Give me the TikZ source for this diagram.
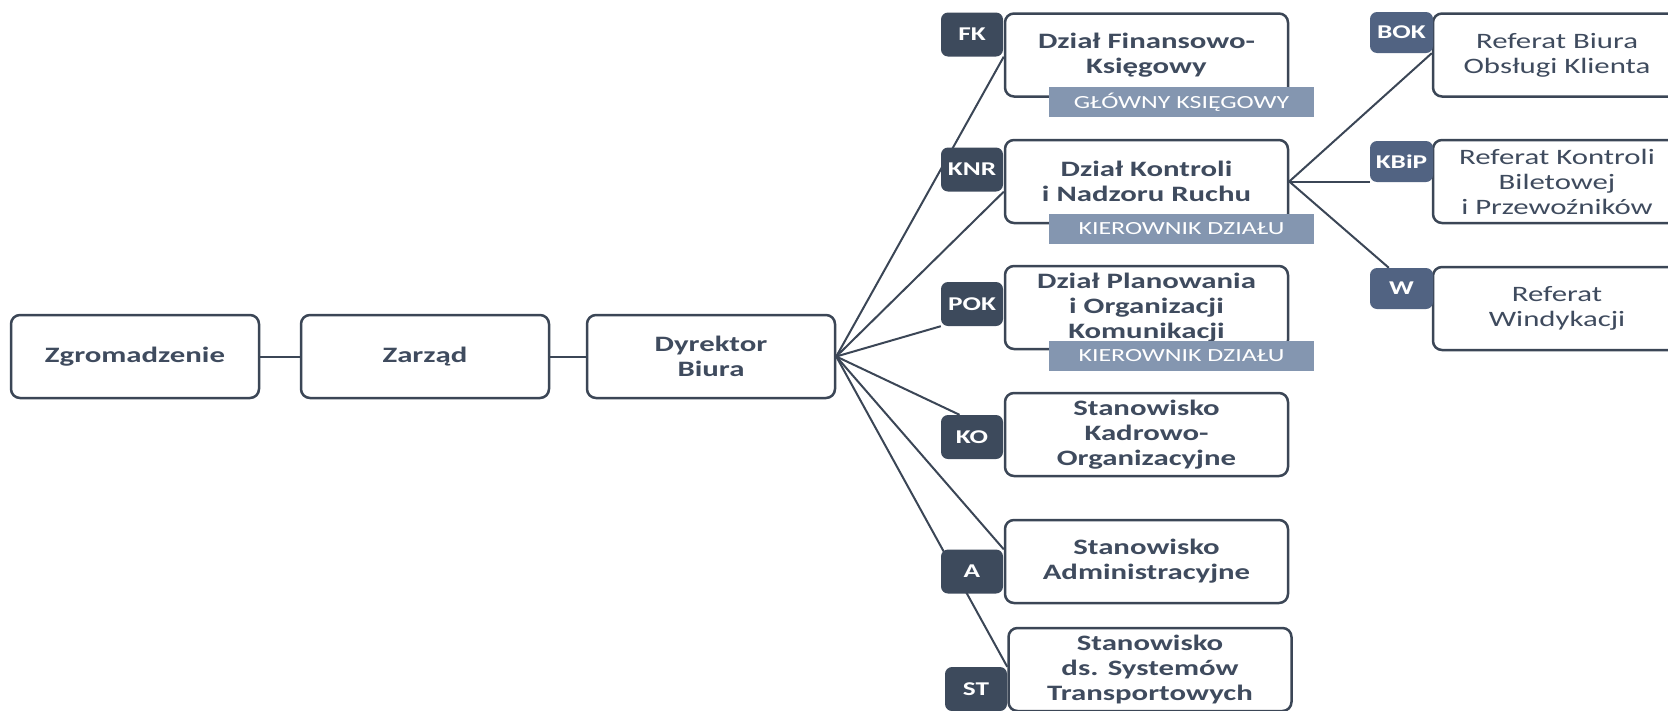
\documentclass[tikz,border=0pt]{standalone}
\usepackage{fontspec}
\setmainfont{Carlito}[FakeStretch=1.4]
\usetikzlibrary{backgrounds}
\usetikzlibrary{calc}
\definecolor{tekst}{HTML}{3F4B5E}
\definecolor{rama}{HTML}{3B4656}
\definecolor{znak}{HTML}{3D4A5C}
\definecolor{znakref}{HTML}{516382}
\definecolor{opis}{HTML}{8496B0}

\begin{document}
\begin{tikzpicture}[x=1pt,y=-1pt,
    ramka/.style={draw=rama,line width=2.5pt,rounded corners=9pt,fill=white,inner sep=0pt,
        minimum height=83pt,align=center,text=tekst},
    organ/.style={ramka,minimum width=248pt,font=\fontsize{22}{25}\selectfont\bfseries},
    dzial/.style={ramka,minimum width=283pt,font=\fontsize{22}{25}\selectfont\bfseries},
    referat/.style={ramka,minimum width=248pt,font=\fontsize{22}{25}\selectfont},
    skrot/.style={fill=znak,rounded corners=7pt,minimum width=62pt,minimum height=44pt,inner sep=0pt,
        text=white,font=\fontsize{19.5}{19.5}\selectfont\bfseries},
    skrotref/.style={skrot,fill=znakref,minimum width=63pt,minimum height=41pt},
    kierownik/.style={fill=opis,minimum width=265pt,minimum height=30pt,inner sep=0pt,
        text=white,font=\fontsize{18.5}{18.5}\selectfont},
    linia/.style={draw=rama,line width=2pt}]

    \useasboundingbox (0,0) rectangle (1668,710);
    \clip (0,0) rectangle (1668,710);

    \node[organ] (zg) at (135,356.5) {Zgromadzenie};
    \node[organ] (za) at (425,356.5) {Zarząd};
    \node[organ] (dy) at (711,356.5) {Dyrektor\\Biura};

    \node[dzial] (fk) at (1146.5,55) {Dział Finansowo-\\Księgowy};
    \node[skrot] (fkz) at (972,34.5) {FK};
    \node[kierownik] (fkk) at (1181.5,102) {GŁÓWNY KSIĘGOWY};

    \node[dzial] (knr) at (1146.5,181.5) {Dział Kontroli\\i Nadzoru Ruchu};
    \node[skrot] (knrz) at (972,169.5) {KNR};
    \node[kierownik] (knrk) at (1181.5,229) {KIEROWNIK DZIAŁU};

    \node[dzial] (pok) at (1146.5,307.5) {Dział Planowania\\i Organizacji\\Komunikacji};
    \node[skrot] (pokz) at (972,304) {POK};
    \node[kierownik] (pokk) at (1181.5,356) {KIEROWNIK DZIAŁU};

    \node[dzial] (ko) at (1146.5,434.5) {Stanowisko\\Kadrowo-\\Organizacyjne};
    \node[skrot] (koz) at (972,437) {KO};

    \node[dzial] (a) at (1146.5,561.5) {Stanowisko\\Administracyjne};
    \node[skrot] (az) at (972,571.5) {A};

    \node[dzial] (st) at (1150,669.5) {Stanowisko\\ds. Systemów\\Transportowych};
    \node[skrot] (stz) at (976,689) {ST};

    \node[referat] (bok) at (1557,55) {Referat Biura\\Obsługi Klienta};
    \node[skrotref] (bokz) at (1401.5,32.5) {BOK};

    \node[referat] (kbip) at (1557,181.5) {Referat Kontroli\\Biletowej\\i Przewoźników};
    \node[skrotref] (kbipz) at (1401.5,161.5) {KBiP};

    \node[referat] (w) at (1557,308.5) {Referat\\Windykacji};
    \node[skrotref] (wz) at (1401.5,288.5) {W};

    \begin{scope}[on background layer]
        \draw[linia] (zg) -- (za);
        \draw[linia] (za) -- (dy);
        \draw[linia] (dy.east) -- (fk.west |- fkz.south);
        \draw[linia] (dy.east) -- (knr.west |- knrz.south);
        \draw[linia] (dy.east) -- (pokz.south west);
        \draw[linia] (dy.east) -- ($(koz.north west)!.3!(koz.north east)$);
        \draw[linia] (dy.east) -- (a.west |- az.north);
        \draw[linia] (dy.east) -- (st.west |- stz.north);
        \draw[linia] (knr.east) -- (bok.west |- bokz.south);
        \draw[linia] (knr.east) -- (knr.east -| kbipz.west);
        \draw[linia] (knr.east) -- ($(wz.north west)!.3!(wz.north east)$);
    \end{scope}
\end{tikzpicture}
\end{document}
